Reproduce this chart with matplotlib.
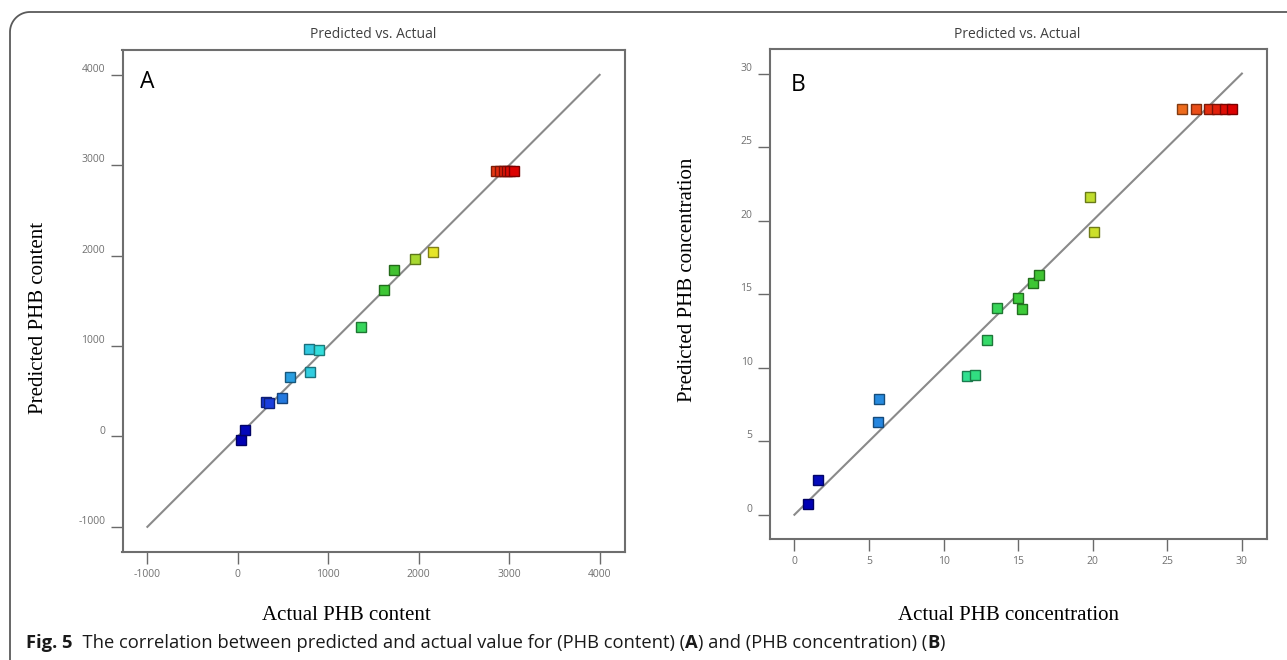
import numpy as np
import matplotlib
matplotlib.use("Agg")
import matplotlib.pyplot as plt
from matplotlib.colors import LinearSegmentedColormap, Normalize
from matplotlib import transforms, font_manager
from matplotlib.path import Path
from matplotlib.patches import PathPatch

plt.rcParams['axes.unicode_minus'] = False

# ---------------- data ----------------
a_actual = [33, 77, 306, 343, 490, 579, 785, 800, 896, 1357, 1619, 1726, 1958, 2154,
            2856, 2900, 2940, 2975, 3010, 3050]
a_pred = [-44, 66, 380, 365, 428, 660, 962, 711, 951, 1209, 1615, 1840, 1958, 2039,
          2935, 2935, 2935, 2935, 2935, 2935]
a_fit = [-1000, 4000]
a_ticks = [-1000, 0, 1000, 2000, 3000, 4000]

b_actual = [0.94, 1.57, 5.58, 5.67, 11.55, 12.1, 12.93, 13.56, 14.96, 15.27, 15.97, 16.39,
            19.79, 20.07, 25.97, 26.9, 27.8, 28.3, 28.85, 29.35]
b_pred = [0.70, 2.33, 6.30, 7.87, 9.43, 9.50, 11.86, 14.08, 14.73, 14.0, 15.76, 16.28,
          21.6, 19.22, 27.62, 27.62, 27.62, 27.62, 27.62, 27.62]
b_fit = [0, 30]
b_ticks = [0, 5, 10, 15, 20, 25, 30]

title_text = "Predicted vs. Actual"
a_xlabel, a_ylabel = "Actual PHB content", "Predicted PHB content"
b_xlabel, b_ylabel = "Actual PHB concentration", "Predicted PHB concentration"

# ---------------- style ----------------
cmap = LinearSegmentedColormap.from_list("de", [
    (0.0, '#0000b4'), (0.10, '#1a3cdc'), (0.18, '#2a9ee0'), (0.28, '#33dde0'),
    (0.38, '#30e08a'), (0.48, '#3ccf3c'), (0.56, '#40c030'), (0.64, '#a8d830'),
    (0.70, '#e6e628'), (0.86, '#f08020'), (0.92, '#e84818'), (1.0, '#dc0000')])

fig = plt.figure(figsize=(12.87, 6.6), dpi=100)
W, H = 1287, 660

fl = font_manager.fontManager.ttflist
names = {f.name for f in fl}


def has_bold(name):
    return any(f.name == name and f.weight in ('bold', 700, 'Bold') for f in fl)


serif = 'Liberation Serif' if 'Liberation Serif' in names else 'DejaVu Serif'
sans = 'Open Sans' if 'Open Sans' in names else 'DejaVu Sans'
cap_font = 'DejaVu Sans'
for cand in ['Liberation Sans Narrow', 'Open Sans', 'Noto Sans', 'Lato', 'Roboto']:
    if cand in names and has_bold(cand):
        cap_font = cand
        break

frame_col = '#6e6e6e'
tick_col = '#6a6a6a'


def make_panel(rect, actual, pred, fit, ticks, lim, letter, letter_pos):
    ax = fig.add_axes(rect)
    ax.plot(fit, fit, color='#8a8a8a', lw=1.5, zorder=2)
    norm = Normalize(vmin=min(actual), vmax=max(actual))
    for x, y in zip(actual, pred):
        fc = np.array(cmap(norm(x))[:3])
        ax.plot([x], [y], marker='s', ms=7, mfc=fc, mec=fc * 0.55, mew=1.0,
                ls='none', zorder=3)
    ax.set_xlim(lim)
    ax.set_ylim(lim)
    ax.set_xticks(ticks)
    ax.set_yticks(ticks)
    ax.tick_params(direction='out', length=8.5, width=1, color=tick_col,
                   labelsize=7.5, labelcolor='#707070', pad=4)
    for lbl in ax.get_xticklabels() + ax.get_yticklabels():
        lbl.set_fontfamily(sans)
    off = transforms.ScaledTranslation(0, 5 / 72, fig.dpi_scale_trans)
    for lbl in ax.get_yticklabels():
        lbl.set_transform(lbl.get_transform() + off)
    for s in ax.spines.values():
        s.set_color(frame_col)
        s.set_linewidth(1.5)
    ax.text(letter_pos[0], letter_pos[1], letter, transform=ax.transAxes,
            fontsize=16.5, family=sans, ha='center', va='center', color='black')
    return ax


axA = make_panel([122.5 / W, 1 - 551.7 / H, 502 / W, 501.7 / H],
                 a_actual, a_pred, a_fit, a_ticks, (-1275, 4275), "A", (0.049, 0.936))
axB = make_panel([769.8 / W, 1 - 539 / H, 496.7 / W, 489.7 / H],
                 b_actual, b_pred, b_fit, b_ticks, (-1.65, 31.65), "B", (0.057, 0.927))

# titles
fig.text(373.5 / W, 1 - 35 / H, title_text, ha='center', va='center', fontsize=10,
         family=sans, color='#404040')
fig.text(1017.5 / W, 1 - 35 / H, title_text, ha='center', va='center', fontsize=10,
         family=sans, color='#404040')

# axis labels
fig.text(346 / W, 1 - 615 / H, a_xlabel, ha='center', va='center', fontsize=15, family=serif)
fig.text(39 / W, 1 - 318 / H, a_ylabel, ha='center', va='center', fontsize=15, family=serif,
         rotation=90)
fig.text(1009 / W, 1 - 615 / H, b_xlabel, ha='center', va='center', fontsize=15, family=serif)
fig.text(687 / W, 1 - 280 / H, b_ylabel, ha='center', va='center', fontsize=15, family=serif,
         rotation=90)

# caption with mixed weights, scaled to the reference width
pieces = [("Fig. 5", 'bold'),
          ("  The correlation between predicted and actual value for (PHB content) (", 'normal'),
          ("A", 'bold'), (") and (PHB concentration) (", 'normal'), ("B", 'bold'), (")", 'normal')]
renderer = fig.canvas.get_renderer()
x0, x_end = 26.5, 944.0


def caption_width(size):
    total = 0
    for txt, wt in pieces:
        t = fig.text(0, 0, txt, fontsize=size, family=cap_font, weight=wt)
        total += t.get_window_extent(renderer=renderer).width
        t.remove()
    return total


size = 12.0
size = size * (x_end - x0) / caption_width(size)
size = min(size, 14.0)
xpix = x0
for txt, wt in pieces:
    t = fig.text(xpix / W, 1 - 643 / H, txt, ha='left', va='center', fontsize=size,
                 family=cap_font, weight=wt, color='#1a1a1a')
    xpix += t.get_window_extent(renderer=renderer).width

# outer rounded border (top and left)
r = 20
theta = np.linspace(np.pi, np.pi / 2, 20)
cx, cy = 10 + r, H - 12 - r
arc = np.column_stack([cx + r * np.cos(theta), cy + r * np.sin(theta)])
verts = np.vstack([[[10, 0]], arc, [[W, H - 12]]])
path = Path(verts / 100.0)
fig.patches.append(PathPatch(path, transform=fig.dpi_scale_trans, fill=False,
                             edgecolor='#5a5a5a', lw=1.3))

fig.savefig("out.png", dpi=100)
